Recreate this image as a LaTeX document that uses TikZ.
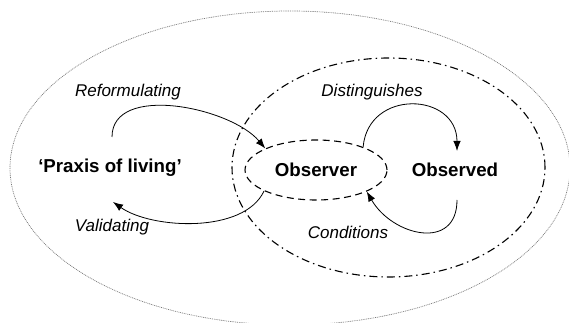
\documentclass[tikz,border=0pt]{standalone}
\usepackage{fontspec}
\setmainfont{Liberation Sans}
\usepackage{tikz}
\usetikzlibrary{positioning, shapes.geometric, arrows.meta}
\definecolor{dotCol}{RGB}{120,120,120}
\tikzset{myOuterLine/.style={color=dotCol, line width=0.7pt, dash pattern=on 0.9pt off 0.9pt}}
\tikzset{myDashDot/.style={color=black, line width=1.1pt, dash pattern=on 8pt off 4pt on 1.5pt off 4pt}}
\tikzset{myObsEllipse/.style={ellipse, draw, dashed, line width=1.1pt, dash pattern=on 7pt off 4.5pt, minimum width=142pt, minimum height=60pt, inner sep=0pt}}
\tikzset{myArc/.style={line width=0.8pt, -{Latex[length=10pt, width=7.5pt]}}}
\tikzset{myBig/.style={font=\fontsize{18.7}{22}\selectfont\bfseries, inner sep=0pt}}
\tikzset{myLabel/.style={font=\fontsize{17}{20}\selectfont\itshape, inner sep=0pt}}

\begin{document}
\begin{tikzpicture}[x=1pt, y=1pt]

	\useasboundingbox (0,0) rectangle (569,323);
	\begin{scope}
		\clip (0,0) rectangle (569,323);
		\draw[myOuterLine] (290,155) ellipse [x radius=280, y radius=157];
	\end{scope}
	\draw[myDashDot] (388.5,155.5) ellipse [x radius=156.5, y radius=109.5];

	\node[myBig] (praxis) at (110,155) {‘Praxis of living’};
	\node[myObsEllipse, myBig] (observer) at (316,153) {Observer};
	\node[myBig] (observed) at (455,153) {Observed};

	\node[myLabel] (reformLbl) at (128,231) {Reformulating};
	\node[myLabel] (validLbl) at (112,96) {Validating};
	\node[myLabel] (distLbl) at (372,231) {Distinguishes};
	\node[myLabel] (condLbl) at (348,91) {Conditions};

	\coordinate (praxisTop) at (112,186);
	\coordinate (praxisBot) at (113,121);
	\coordinate (observedTop) at (457,172);
	\coordinate (observedBot) at (457,123);

	\draw[myArc] (praxisTop) to[out=90, in=130, looseness=0.9] (observer.157);
	\draw[myArc] (observer.202) to[out=-115, in=-35, looseness=0.8] (praxisBot);
	\draw[myArc] (observer.26) to[out=85, in=90, looseness=1.6] (observedTop);
	\draw[myArc] (observedBot) to[out=-90, in=-60, looseness=1.45] (observer.-23);
\end{tikzpicture}
\end{document}
